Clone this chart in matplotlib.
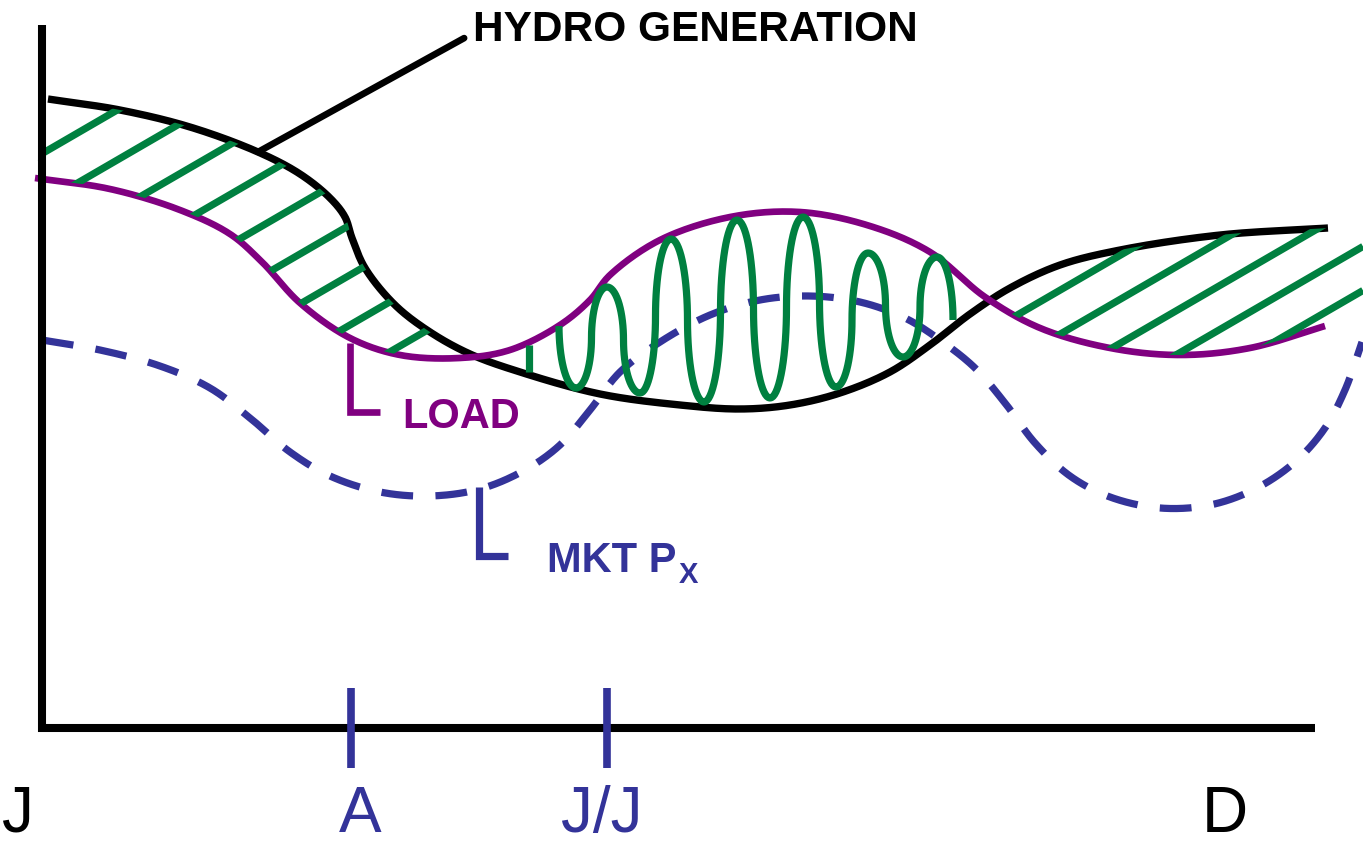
import numpy as np
import matplotlib
matplotlib.use("Agg")
import matplotlib.pyplot as plt
from matplotlib.patches import Polygon
from matplotlib.collections import LineCollection

plt.rcParams["font.family"] = ["Liberation Sans", "DejaVu Sans"]

# canvas units follow the picture (x to the right, y downward)
WIDTH, HEIGHT = 1363, 844

BLACK = "#000000"
PURPLE = "#800080"
BLUE = "#333399"
GREEN = "#008040"

# hydro generation curve
hydro_x = [48, 120, 190, 258, 300, 330, 345, 352, 365, 395, 430, 470, 520, 600,
           680, 740, 790, 840, 890, 930, 970, 1010, 1060, 1120, 1220, 1328]
hydro_y = [99, 110, 127, 152, 174, 198, 217, 238, 268, 305, 332, 354, 372, 394,
           405, 409, 405, 393, 372, 345, 314, 288, 265, 250, 235, 228]

# load curve
load_x = [35, 110, 180, 230, 262, 300, 350, 400, 460, 510, 560, 590, 610, 660,
          730, 800, 870, 930, 985, 1040, 1110, 1180, 1250, 1325]
load_y = [178, 189, 210, 234, 262, 303, 338, 355, 358, 350, 325, 300, 275, 240,
          217, 212, 226, 252, 297, 328, 348, 355, 348, 326]

# market price curve (dashed)
mkt_x = [42, 100, 160, 210, 250, 290, 330, 380, 430, 480, 525, 560, 590, 620,
         660, 710, 760, 810, 860, 905, 940, 975, 1005, 1035, 1070, 1110, 1160,
         1210, 1255, 1295, 1325, 1345, 1362]
mkt_y = [340, 350, 366, 388, 418, 452, 476, 492, 496, 489, 470, 445, 410, 372,
         342, 315, 300, 296, 302, 318, 340, 368, 403, 443, 476, 497, 508,
         505, 489, 462, 428, 390, 342]

# coil between load and hydro: turning points (first/last are mid-strokes)
coil_x = [559, 576, 607, 640, 671, 704, 737, 770, 803, 836, 868, 903, 937, 953]
coil_y = [326, 388, 287, 393, 239, 402, 220, 398, 217, 387, 253, 357, 257, 320]
stub_x = 529
stub_y = (345, 372)

# time axis
AXIS_LEFT, AXIS_TOP, AXIS_BOTTOM, AXIS_RIGHT = 42, 25, 728, 1315
month_labels = ["J", "A", "J/J", "D"]
month_label_x = [18, 360, 602, 1225]
month_label_colors = [BLACK, BLUE, BLUE, BLACK]
tick_x = [351, 607]


def catmull_rom(x, y, n=24, alpha=0.5):
    """Centripetal Catmull-Rom path through the given points."""
    pts = np.column_stack([x, y]).astype(float)
    p = np.vstack([2 * pts[0] - pts[1], pts, 2 * pts[-1] - pts[-2]])
    out = []
    for i in range(1, len(p) - 2):
        p0, p1, p2, p3 = p[i - 1], p[i], p[i + 1], p[i + 2]
        t0 = 0.0
        t1 = t0 + np.linalg.norm(p1 - p0) ** alpha
        t2 = t1 + np.linalg.norm(p2 - p1) ** alpha
        t3 = t2 + np.linalg.norm(p3 - p2) ** alpha
        t = np.linspace(t1, t2, n, endpoint=False)[:, None]
        a1 = (t1 - t) / (t1 - t0) * p0 + (t - t0) / (t1 - t0) * p1
        a2 = (t2 - t) / (t2 - t1) * p1 + (t - t1) / (t2 - t1) * p2
        a3 = (t3 - t) / (t3 - t2) * p2 + (t - t2) / (t3 - t2) * p3
        b1 = (t2 - t) / (t2 - t0) * a1 + (t - t0) / (t2 - t0) * a2
        b2 = (t3 - t) / (t3 - t1) * a2 + (t - t1) / (t3 - t1) * a3
        out.append((t2 - t) / (t2 - t1) * b1 + (t - t1) / (t2 - t1) * b2)
    out.append(pts[-1:])
    res = np.vstack(out)
    return res[:, 0], res[:, 1]


def coil(xs, ys, n=18):
    """Join turning points with elliptical quarter arcs (vertical mid-strokes)."""
    s = np.linspace(0, np.pi / 2, n)
    px, py = [], []
    x0, y0, x1, y1 = xs[0], ys[0], xs[1], ys[1]
    px += list(x0 + (x1 - x0) * (1 - np.cos(s)))
    py += list(y0 + (y1 - y0) * np.sin(s))
    for i in range(1, len(xs) - 2):
        xa, ya, xb, yb = xs[i], ys[i], xs[i + 1], ys[i + 1]
        xm, ym = (xa + xb) / 2, (ya + yb) / 2
        px += list(xa + (xm - xa) * np.sin(s))
        py += list(ym + (ya - ym) * np.cos(s))
        px += list(xm + (xb - xm) * (1 - np.cos(s)))
        py += list(ym + (yb - ym) * np.sin(s))
    xa, ya, xb, yb = xs[-2], ys[-2], xs[-1], ys[-1]
    px += list(xa + (xb - xa) * np.sin(s))
    py += list(yb + (ya - yb) * np.cos(s))
    return px, py


def hatch(ax, poly, start, step, count, slope=0.58):
    """Parallel green strokes clipped to a region."""
    segs = []
    for k in range(count):
        c = start + k * step
        segs.append([(0, c), (WIDTH, c - slope * WIDTH)])
    lc = LineCollection(segs, colors=GREEN, linewidths=5.2, capstyle="butt", zorder=4)
    ax.add_collection(lc)
    lc.set_clip_path(Polygon(poly, closed=True, transform=ax.transData))


def main():
    fig = plt.figure(figsize=(WIDTH / 100, HEIGHT / 100), dpi=100)
    ax = fig.add_axes([0, 0, 1, 1])
    ax.set_xlim(0, WIDTH)
    ax.set_ylim(HEIGHT, 0)
    ax.axis("off")

    hx, hy = catmull_rom(hydro_x, hydro_y)
    lx, ly = catmull_rom(load_x, load_y)
    mx, my = catmull_rom(mkt_x, mkt_y)

    # where load and hydro cross
    grid = np.linspace(hydro_x[0], load_x[-1], 4000)
    oh, ol = np.argsort(hx), np.argsort(lx)
    diff = np.interp(grid, lx[ol], ly[ol]) - np.interp(grid, hx[oh], hy[oh])
    cross = grid[np.where(np.diff(np.sign(diff)) != 0)[0]]
    c1, c2 = cross[0], cross[1]

    left = np.vstack([np.column_stack([hx[hx <= c1], hy[hx <= c1]]),
                      np.column_stack([lx[lx <= c1], ly[lx <= c1]])[::-1]])
    upper = np.vstack([np.column_stack([hx[hx >= c2], hy[hx >= c2]]),
                       [[WIDTH, hydro_y[-1]]]])
    lower = np.vstack([np.column_stack([lx[lx >= c2], ly[lx >= c2]]),
                       [[WIDTH, load_y[-1]]]])
    right = np.vstack([upper, lower[::-1]])

    hatch(ax, left, 178, 50, 9)
    hatch(ax, right, 905, 44, 5)

    ax.plot(mx, my, color=BLUE, lw=5.2, dashes=(4.4, 3.1), zorder=2.5)
    ax.plot(hx, hy, color=BLACK, lw=5.3, solid_capstyle="butt", zorder=3)
    ax.plot(lx, ly, color=PURPLE, lw=4.8, solid_capstyle="butt", zorder=3)

    cx, cy = coil(coil_x, coil_y)
    ax.plot(cx, cy, color=GREEN, lw=5.2, solid_capstyle="butt", zorder=4)
    ax.vlines(stub_x, *stub_y, color=GREEN, lw=5.2, zorder=4)

    # axes
    ax.plot([AXIS_LEFT, AXIS_LEFT, AXIS_RIGHT], [AXIS_TOP, AXIS_BOTTOM, AXIS_BOTTOM],
            color=BLACK, lw=5.8, solid_joinstyle="miter", solid_capstyle="butt", zorder=5)
    ax.vlines(tick_x, AXIS_BOTTOM - 40, AXIS_BOTTOM + 40, color=BLUE, lw=5.5, zorder=6)
    for lab, x, col in zip(month_labels, month_label_x, month_label_colors):
        ax.text(x, 832, lab, ha="center", va="baseline", fontsize=46, color=col)

    # labels with leaders
    ax.annotate("HYDRO GENERATION", xy=(258, 152), xytext=(473, 41),
                ha="left", va="baseline", fontsize=30.5, fontweight="bold", color=BLACK,
                arrowprops=dict(arrowstyle="-", color=BLACK, lw=4.8, shrinkA=5, shrinkB=0,
                                relpos=(0, 0.42)))
    ax.annotate("LOAD", xy=(350, 343), xytext=(402, 428),
                ha="left", va="baseline", fontsize=30, fontweight="bold", color=PURPLE,
                arrowprops=dict(arrowstyle="-", color=PURPLE, lw=4.8, shrinkA=14, shrinkB=0,
                                relpos=(0, 0.62), joinstyle="miter", capstyle="butt",
                                connectionstyle="angle,angleA=0,angleB=90,rad=0"))
    mkt = ax.annotate("MKT P", xy=(479, 487), xytext=(547, 572),
                      ha="left", va="baseline", fontsize=30, fontweight="bold", color=BLUE,
                      arrowprops=dict(arrowstyle="-", color=BLUE, lw=5.2, shrinkA=26, shrinkB=0,
                                      relpos=(0, 0.62), joinstyle="miter", capstyle="butt",
                                      connectionstyle="angle,angleA=0,angleB=90,rad=0"))
    ax.annotate("X", xy=(1, 0), xycoords=mkt, xytext=(2, -1.5), textcoords="offset points",
                ha="left", va="baseline", fontsize=21, fontweight="bold", color=BLUE)

    fig.savefig("out.png", dpi=100)


if __name__ == "__main__":
    main()
